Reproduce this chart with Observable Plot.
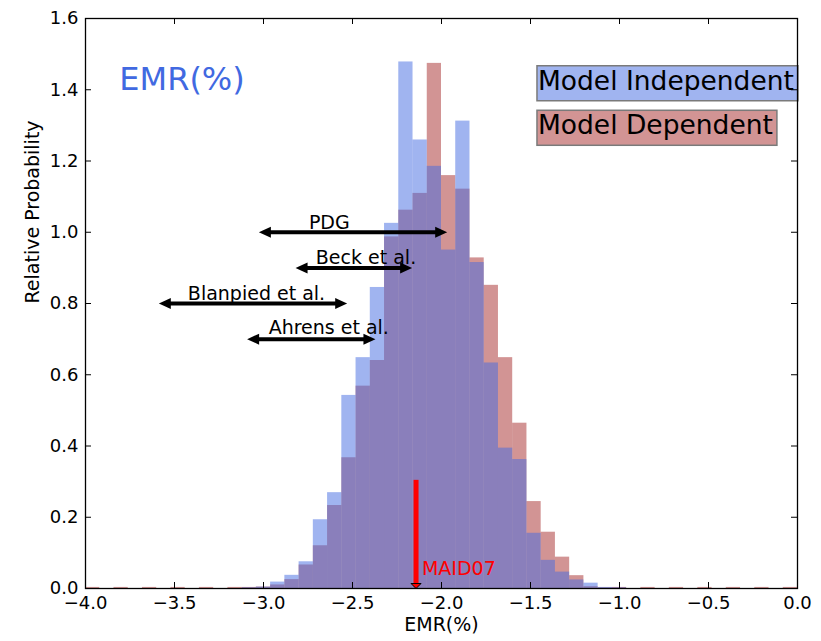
<!DOCTYPE html>
<html><head><meta charset="utf-8">
<script src="https://cdn.jsdelivr.net/npm/d3@7"></script>
<script src="https://cdn.jsdelivr.net/npm/@observablehq/plot@0.6"></script>
<style>
html,body{margin:0;padding:0;background:#fff;}
#chart{position:relative;width:821px;height:641px;}
</style></head><body><div id="chart"></div>
<script>
// Histogram bins: 50 bins of width 0.08 from -4.0 to 0.0
const binStart = -4;
const binWidth = 0.08;
const modelIndependent = [
  0,0,0,0,0,0,0,0,0,0,0,0.002,
  0.004,0.018,0.037,0.075,0.193,0.269,0.542,0.648,0.845,1.025,1.478,1.259,1.185,
  0.950,1.312,0.915,0.633,0.394,0.362,0.155,0.079,0.046,0.024,0.015,0.003,
  0.002,0,0,0,0,0,0,0,0,0,0,0,0
];
const modelDependent = [
  0.003,0,0.003,0,0.003,0,0.003,0,0.003,0,0.003,0.003,
  0.004,0.010,0.025,0.066,0.120,0.233,0.367,0.568,0.640,0.987,1.062,1.109,1.474,
  1.159,1.121,0.928,0.851,0.648,0.464,0.244,0.158,0.088,0.036,0.005,0.002,
  0.003,0,0.003,0,0.003,0,0.003,0,0.003,0,0.003,0,0.003
];
const xTicks = [-4.0,-3.5,-3.0,-2.5,-2.0,-1.5,-1.0,-0.5,0.0];
const yTicks = [0.0,0.2,0.4,0.6,0.8,1.0,1.2,1.4,1.6];

// Reference ranges (double arrows)
const refNames  = ["PDG","Beck et al.","Blanpied et al.","Ahrens et al."];
const refLow    = [-3.026,-2.820,-3.588,-3.092];
const refHigh   = [-1.968,-2.165,-2.530,-2.371];
const refY      = [1.0,0.9,0.8,0.7];
const refLabelX = [-2.745,-2.706,-3.425,-2.971];
const refLabelY = [1.010,0.911,0.811,0.713];

// MAID07 marker
const maidX = -2.143, maidTop = 0.305, maidLabel = "MAID07", maidLabelX = -2.11, maidLabelY = 0.039;

// Titles / legend
const titleText = "EMR(%)", titleX = -3.81, titleY = 1.40;
const legendNames = ["Model Independent","Model Dependent"];
const legendColors = ["royalblue","brown"];
const legendX = -1.458;
const legendY = [1.40,1.275];

const W = 712, H = 570, PXU = W/4;
const fmt = d => d.toFixed(1).replace("-", "\u2212");

const bins = modelIndependent.map((v,i)=>({x1: binStart+i*binWidth, x2: binStart+(i+1)*binWidth, blue: v, red: modelDependent[i]}));
const refs = refNames.map((n,i)=>({name:n, lo:refLow[i], hi:refHigh[i], y:refY[i], lx:refLabelX[i], ly:refLabelY[i]}));

const HL = 12, HW = 5.5;
const headRight = {draw(c){c.moveTo(0,0);c.lineTo(-HL,-HW);c.lineTo(-HL,HW);c.closePath();}};
const headLeft  = {draw(c){c.moveTo(0,0);c.lineTo(HL,-HW);c.lineTo(HL,HW);c.closePath();}};
const headDown  = {draw(c){c.moveTo(0,0);c.lineTo(-5,-5);c.lineTo(5,-5);c.closePath();}};

const plot = Plot.plot({
  width: 821, height: 641,
  marginLeft: 85, marginRight: 24, marginTop: 18, marginBottom: 53,
  style: {fontFamily: "DejaVu Sans", fontSize: "18px", background: "white", color: "black"},
  x: {domain: [-4, 0]},
  y: {domain: [0, 1.6]},
  marks: [
    Plot.rect(bins, {x1: "x1", x2: "x2", y1: 0, y2: "red", fill: "brown", fillOpacity: 0.5}),
    Plot.rect(bins, {x1: "x1", x2: "x2", y1: 0, y2: "blue", fill: "royalblue", fillOpacity: 0.5}),
    // reference arrows
    Plot.link(refs, {x1: d=>d.lo + HL/PXU*0.8, x2: d=>d.hi - HL/PXU*0.8, y1: "y", y2: "y", stroke: "black", strokeWidth: 4}),
    Plot.dot(refs, {x: "lo", y: "y", symbol: headLeft, fill: "black", stroke: "none"}),
    Plot.dot(refs, {x: "hi", y: "y", symbol: headRight, fill: "black", stroke: "none"}),
    Plot.text(refs, {x: "lx", y: "ly", text: "name", textAnchor: "start", lineAnchor: "bottom", fontSize: 19, fill: "black"}),
    // MAID07
    Plot.link([maidX], {x1: d=>d, x2: d=>d, y1: maidTop, y2: 4/(H/1.6), stroke: "red", strokeWidth: 5}),
    Plot.dot([maidX], {x: d=>d, y: 0, symbol: headDown, fill: "red", stroke: "black", strokeWidth: 1}),
    Plot.text([maidLabel], {x: maidLabelX, y: maidLabelY, text: d=>d, textAnchor: "start", lineAnchor: "bottom", fontSize: 19, fill: "red"}),
    // title & legend texts
    Plot.text([titleText], {x: titleX, y: titleY, text: d=>d, textAnchor: "start", lineAnchor: "bottom", fontSize: 32, fill: "royalblue"}),
    Plot.text(legendNames, {x: legendX, y: (d,i)=>legendY[i], text: d=>d, textAnchor: "start", lineAnchor: "bottom", fontSize: 26.5, fill: "black"}),
    // inward ticks on all four sides
    Plot.tickX(xTicks, {x: d=>d, insetTop: H-6, stroke: "black", strokeWidth: 1}),
    Plot.tickX(xTicks, {x: d=>d, insetBottom: H-6, stroke: "black", strokeWidth: 1}),
    Plot.tickY(yTicks, {y: d=>d, insetRight: W-6, stroke: "black", strokeWidth: 1}),
    Plot.tickY(yTicks, {y: d=>d, insetLeft: W-6, stroke: "black", strokeWidth: 1}),
    Plot.axisX({ticks: xTicks, tickSize: 0, tickPadding: 8, tickFormat: fmt, label: null, fontSize: 18}),
    Plot.axisY({ticks: yTicks, tickSize: 0, tickPadding: 7, tickFormat: fmt, label: null, fontSize: 18}),
    Plot.text(["EMR(%)"], {frameAnchor: "bottom", dy: 42, text: d=>d, fontSize: 19, fill: "black"}),
    Plot.text(["Relative Probability"], {frameAnchor: "left", dx: -53, rotate: -90, text: d=>d, fontSize: 19, fill: "black"}),
    Plot.frame({stroke: "black", strokeWidth: 1.3})
  ]
});
document.getElementById("chart").append(plot);

// background boxes behind the legend texts
const NS = "http://www.w3.org/2000/svg";
plot.querySelectorAll("text").forEach(t => {
  const i = legendNames.indexOf(t.textContent);
  if (i < 0) return;
  const b = t.getBBox();
  const r = document.createElementNS(NS, "rect");
  r.setAttribute("x", b.x - 1);
  r.setAttribute("y", b.y + 1);
  r.setAttribute("width", b.width + 5);
  r.setAttribute("height", b.height + 4);
  r.setAttribute("fill", legendColors[i]);
  r.setAttribute("fill-opacity", 0.5);
  r.setAttribute("stroke", "#7a7a7a");
  r.setAttribute("stroke-width", 1.5);
  const tr = t.getAttribute("transform");
  if (tr) r.setAttribute("transform", tr);
  t.parentNode.insertBefore(r, t);
});
</script></body></html>
